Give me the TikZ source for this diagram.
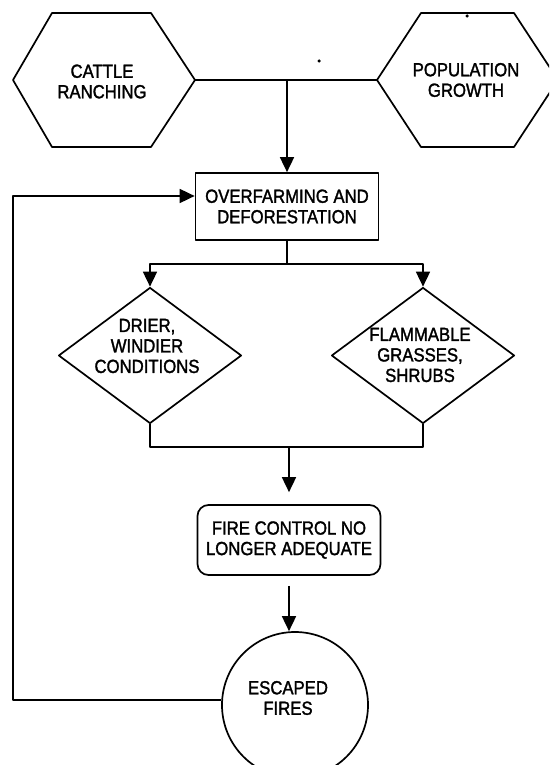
\documentclass[tikz,border=0pt]{standalone}
\usepackage{fontspec}
\setmainfont{Liberation Sans}[FakeStretch=0.88, FakeBold=1.6]
\usetikzlibrary{arrows.meta,shapes.geometric}

\begin{document}
\begin{tikzpicture}[x=1pt,y=-1pt,
  line width=1.7pt, line join=round,
  lbl/.style={font=\fontsize{19}{20.5}\selectfont, align=center, inner sep=0pt},
  arr/.style={-{Triangle[length=15pt,width=14pt]}},
  boxnode/.style={draw, minimum width=183pt, inner sep=0pt},
  decision/.style={draw, diamond, minimum width=183pt, minimum height=136pt, inner sep=0pt},
  speck/.style={fill, inner sep=0pt, minimum size=3.5pt, circle}]
\useasboundingbox (0,0) rectangle (549,765);
\clip (0,0) rectangle (549,765);
\fill[white] (0,0) rectangle (549,765);

% the two driving factors (hexagons)
\draw (13,80) coordinate (catW) -- (52,13) -- (151,13) -- (195,80) coordinate (catE)
      -- (151,147) -- (52,147) -- cycle;
\node[lbl] (cattle) at (102,81.5) {CATTLE\\RANCHING};
\draw (377,80) coordinate (popW) -- (421,13) -- (514,13) -- (558,80) coordinate (popE)
      -- (514,147) -- (421,147) -- cycle;
\node[lbl] (population) at (466,80) {POPULATION\\GROWTH};

% central process
\node[boxnode, minimum height=67pt, lbl, draw] (over) at (287,206.5)
  {OVERFARMING AND\\DEFORESTATION};

% consequences (diamonds)
\node[decision] (drier) at (150,355.5) {};
\node[lbl] (drierText) at (147,346) {DRIER,\\WINDIER\\CONDITIONS};
\node[decision] (flam) at (423,355.5) {};
\node[lbl] (flamText) at (420,355) {FLAMMABLE\\GRASSES,\\SHRUBS};

% loss of control
\node[boxnode, minimum height=70pt, rounded corners=11pt, lbl, draw] (ctrl) at (289,540)
  {FIRE CONTROL NO\\LONGER ADEQUATE};

% outcome
\node[draw, circle, minimum size=146pt, inner sep=0pt] (esc) at (295,705) {};
\node[lbl] (escText) at (288,698) {ESCAPED\\FIRES};

% connectors
\coordinate (join) at (287,80);
\draw (catE) -- (popW);
\draw[arr] (join) -- (over.north);

\coordinate (split) at (287,264);
\draw (over.south) -- (split);
\draw[arr] (split) -| (drier.north);
\draw[arr] (split) -| (flam.north);

\coordinate (merge) at (289,447);
\draw (drier.south) |- (merge) -| (flam.south);
\draw[arr, shorten >=12pt] (merge) -- (ctrl.north |- merge) -- (ctrl.north);

\draw[arr] ([yshift=-10pt]ctrl.south) -- (ctrl.south |- esc.north);

\coordinate (fbTop) at (13,196);
\draw[arr] (esc.176) -- (fbTop |- esc.176) -- (fbTop) -- (over.west |- fbTop);

% specks
\node[speck] (speckA) at (319,61) {};
\node[speck] (speckB) at (467,16) {};
\end{tikzpicture}
\end{document}
